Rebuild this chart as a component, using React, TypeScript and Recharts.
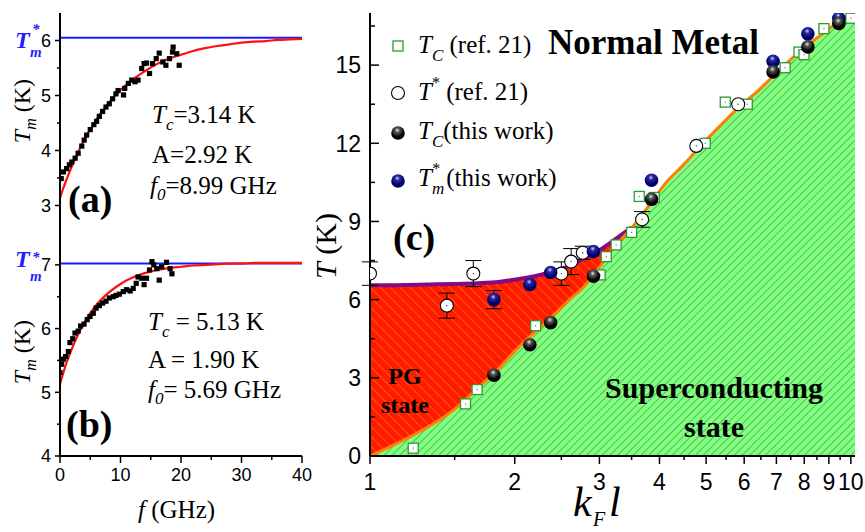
import React from "react";
import {
  ComposedChart,
  Line,
  Area,
  Scatter,
  XAxis,
  YAxis,
  ReferenceLine,
  ErrorBar,
} from "recharts";

// ---- panels (a) and (b): Tm vs frequency ----
const fA = [0.2, 0.55, 1.1, 1.55, 1.95, 2.5, 3.0, 3.6, 4.0, 4.4, 5.0, 5.6, 6.05, 6.5, 7.05, 7.6, 8.15, 8.7, 9.25, 9.6, 10.5, 10.7, 11.3, 11.85, 12.4, 12.9, 13.5, 13.9, 14.3, 14.8, 15.3, 15.9, 16.4, 17.0, 17.5, 18.1, 18.6, 18.7, 19.3, 19.7];
const tmA = [3.49, 3.61, 3.67, 3.74, 3.79, 3.86, 3.95, 4.08, 4.19, 4.28, 4.38, 4.47, 4.53, 4.62, 4.71, 4.79, 4.85, 4.94, 5.03, 5.09, 5.01, 5.13, 5.22, 5.28, 5.25, 5.28, 5.49, 5.58, 5.59, 5.4, 5.58, 5.67, 5.77, 5.61, 5.55, 5.67, 5.79, 5.88, 5.76, 5.55];

const fB = [0, 0.28, 0.55, 0.94, 1.38, 1.65, 2.1, 2.48, 3.0, 3.4, 3.97, 4.5, 4.96, 5.5, 5.95, 6.5, 7.05, 7.6, 8.15, 8.8, 9.26, 9.8, 10.46, 11.0, 11.6, 12.1, 12.6, 12.9, 13.5, 13.9, 14.3, 14.8, 15.2, 15.5, 16.0, 16.4, 16.8, 17.6, 18.2, 18.5];
const tmB = [5.31, 5.44, 5.52, 5.56, 5.64, 5.78, 5.84, 5.93, 5.96, 6.04, 6.07, 6.14, 6.19, 6.24, 6.32, 6.36, 6.4, 6.43, 6.48, 6.5, 6.52, 6.54, 6.58, 6.61, 6.59, 6.63, 6.71, 6.81, 6.79, 6.69, 6.79, 6.92, 7.05, 7.0, 6.94, 6.76, 6.97, 7.04, 6.94, 6.86];

const fitF = [0, 0.5, 1, 2, 3, 4, 6, 8, 10, 12, 14, 16, 18, 20, 22, 24, 26, 28, 30, 32, 34, 36, 38, 40];
const fitA = [3.14, 3.3, 3.45, 3.72, 3.97, 4.19, 4.56, 4.86, 5.1, 5.29, 5.44, 5.57, 5.67, 5.74, 5.81, 5.86, 5.9, 5.93, 5.96, 5.98, 5.99, 6.01, 6.02, 6.03];
const fitB = [5.13, 5.29, 5.44, 5.69, 5.91, 6.09, 6.37, 6.56, 6.7, 6.8, 6.87, 6.92, 6.95, 6.97, 6.99, 7.0, 7.01, 7.02, 7.02, 7.03, 7.03, 7.03, 7.03, 7.03];

const tmStarA = 6.05;
const tmStarB = 7.02;

const fTicks = [0, 5, 10, 15, 20, 25, 30, 35, 40];
const fMajor = [0, 10, 20, 30, 40];
const aTicks = [3, 3.5, 4, 4.5, 5, 5.5, 6];
const aMajor = [3, 4, 5, 6];
const bTicks = [4, 4.5, 5, 5.5, 6, 6.5, 7];
const bMajor = [4, 5, 6, 7];

// ---- panel (c): phase diagram ----
const tcRefK = [1.23, 1.58, 1.67, 2.21, 3.01, 3.1, 3.25, 3.5, 3.63, 3.9, 4.98, 5.48, 6.09, 7.3, 7.8, 7.99, 8.79, 10.0];
const tcRefT = [0.3, 2.0, 2.55, 5.0, 6.95, 7.65, 8.1, 8.58, 9.96, 9.92, 12.0, 13.58, 13.5, 14.9, 15.5, 15.4, 16.4, 16.8];

const tsRefK = [1.0, 1.445, 1.64, 2.5, 2.62, 2.77, 3.68, 4.77, 5.83];
const tsRefT = [7.0, 5.77, 7.0, 7.0, 7.46, 7.8, 9.08, 11.9, 13.5];
const tsRefErr = [0.45, 0.48, 0.5, 0.45, 0.5, 0.25, 0.3, null, null];

const workK = [1.81, 2.15, 2.375, 2.915, 3.85, 6.89, 8.14, 9.44];
const tcWorkT = [3.1, 4.27, 5.12, 6.9, 9.85, 14.74, 15.7, 16.6];
const tmWorkT = [6.0, 6.58, 7.04, 7.85, 10.58, 15.15, 16.2, 16.8];
const tmWorkErr = [0.35, null, null, null, null, null, null, null];

const kGrid = [1, 1.1, 1.2, 1.33, 1.5, 1.675, 1.85, 2.02, 2.2, 2.44, 2.6, 2.77, 3.0, 3.2, 3.5, 3.8, 4.13, 4.5, 4.84, 5.3, 5.86, 6.4, 7.09, 7.8, 8.87, 9.5, 10.2];
const tcLine = [0, 0.35, 0.7, 1.15, 1.8, 2.6, 3.35, 4.1, 4.75, 5.5, 6.0, 6.45, 7.25, 7.95, 8.75, 9.6, 10.5, 11.2, 11.85, 12.6, 13.4, 14.0, 14.8, 15.5, 16.3, 16.7, 17.0];
const tStarLine = [6.55, 6.55, 6.56, 6.58, 6.6, 6.63, 6.68, 6.78, 6.9, 7.12, 7.3, 7.55, 7.9, 8.25, 8.77];

const kTicks = [1, 1.5, 2, 2.5, 3, 3.5, 4, 4.5, 5, 5.5, 6, 6.5, 7, 7.5, 8, 8.5, 9, 9.5, 10];
const kMajor = [1, 2, 3, 4, 5, 6, 7, 8, 9, 10];
const tTicks = [0, 1.5, 3, 4.5, 6, 7.5, 9, 10.5, 12, 13.5, 15, 16.5];
const tMajor = [0, 3, 6, 9, 12, 15];

const SANS = "'Liberation Sans', Arial, sans-serif";
const SERIF = "'Liberation Serif', 'Times New Roman', serif";
const BLUE = "#1f1fff";

const pts = (xs: number[], ys: number[], es?: (number | null)[]) =>
  xs.map((x, i) => ({ x, y: ys[i], e: es ? es[i] : null }));

const rowsFitA = fitF.map((x, i) => ({ x, t: fitA[i] }));
const rowsFitB = fitF.map((x, i) => ({ x, t: fitB[i] }));
const rowsBound = kGrid.map((x, i) => ({
  x,
  tc: tcLine[i],
  ts: i < tStarLine.length ? tStarLine[i] : null,
}));

type Side = "left" | "right" | "top" | "bottom";
interface TickOpts {
  out: boolean;
  majors: number[];
  major: number;
  minor: number;
  label?: boolean;
  size?: number;
  gap?: number;
}

function makeTick(side: Side, o: TickOpts) {
  return (p: any) => {
    const v = p.payload.value as number;
    const isMajor = o.majors.some((m) => Math.abs(m - v) < 1e-6);
    const len = isMajor ? o.major : o.minor;
    const s = o.out ? 1 : -1;
    const { x, y } = p;
    const size = o.size ?? 18;
    const gap = o.gap ?? 8;
    let line: React.ReactNode;
    let label: React.ReactNode = null;
    const tp = { fill: "#000", stroke: "none", fontFamily: SANS, fontSize: size };
    if (side === "left") {
      line = <line x1={x} y1={y} x2={x - s * len} y2={y} />;
      if (o.label && isMajor)
        label = (
          <text {...tp} x={x - gap} y={y + size * 0.36} textAnchor="end">
            {v}
          </text>
        );
    } else if (side === "right") {
      line = <line x1={x} y1={y} x2={x + s * len} y2={y} />;
    } else if (side === "top") {
      line = <line x1={x} y1={y} x2={x} y2={y - s * len} />;
    } else {
      line = <line x1={x} y1={y} x2={x} y2={y + s * len} />;
      if (o.label && isMajor)
        label = (
          <text {...tp} x={x} y={y + gap} textAnchor="middle">
            {v}
          </text>
        );
    }
    return (
      <g stroke="#000" strokeWidth={1.5}>
        {line}
        {label}
      </g>
    );
  };
}

const axisLine = { stroke: "#000", strokeWidth: 2 };

const square = (p: any) => (
  <rect x={p.cx - 2.6} y={p.cy - 2.6} width={5.2} height={5.2} fill="#000" />
);
const greenSquare = (p: any) => (
  <g>
    <rect x={p.cx - 5} y={p.cy - 5} width={10} height={10} fill="#fff" stroke="#2f9a2f" strokeWidth={1.3} />
    <rect x={p.cx - 0.6} y={p.cy - 0.6} width={1.2} height={1.2} fill="#2f9a2f" />
  </g>
);
const openCircle = (p: any) => (
  <g>
    <circle cx={p.cx} cy={p.cy} r={6.5} fill="#fff" stroke="#000" strokeWidth={1.1} />
    <circle cx={p.cx} cy={p.cy} r={0.7} fill="#333" />
  </g>
);
const ball = (id: string) => (p: any) => (
  <circle cx={p.cx} cy={p.cy} r={6.8} fill={`url(#${id})`} />
);

function FreqPanel(props: {
  top: number;
  height: number;
  mTop: number;
  mBottom: number;
  xHeight: number;
  domain: [number, number];
  yTicks: number[];
  yMajor: number[];
  fs: number[];
  ts: number[];
  fit: { x: number; t: number }[];
  star: number;
  bottomLabels: boolean;
}) {
  return (
    <div style={{ position: "absolute", left: 0, top: props.top }}>
      <ComposedChart
        width={320}
        height={props.height}
        margin={{ top: props.mTop, right: 18, bottom: props.mBottom, left: 0 }}
      >
        <XAxis
          dataKey="x"
          type="number"
          domain={[0, 40]}
          allowDataOverflow
          ticks={fTicks}
          interval={0}
          height={props.xHeight}
          tickSize={0}
          tickMargin={0}
          axisLine={axisLine}
          tickLine={false}
          tick={
            props.bottomLabels
              ? makeTick("bottom", { out: true, majors: fMajor, major: 7, minor: 4, label: true, size: 18, gap: 25 })
              : makeTick("bottom", { out: false, majors: fMajor, major: 5, minor: 3 })
          }
        />
        <XAxis xAxisId="top" orientation="top" type="number" domain={[0, 40]} height={0} axisLine={axisLine} tick={false} tickLine={false} />
        <YAxis
          type="number"
          domain={props.domain}
          allowDataOverflow
          ticks={props.yTicks}
          interval={0}
          width={60}
          tickSize={0}
          tickMargin={0}
          axisLine={axisLine}
          tickLine={false}
          tick={makeTick("left", { out: true, majors: props.yMajor, major: 5, minor: 3, label: true, size: 18, gap: 9 })}
        />
        <YAxis
          yAxisId="right"
          orientation="right"
          type="number"
          domain={props.domain}
          allowDataOverflow
          ticks={props.yTicks}
          interval={0}
          width={0}
          tickSize={0}
          tickMargin={0}
          axisLine={axisLine}
          tickLine={false}
          tick={makeTick("right", { out: false, majors: props.yMajor, major: 5, minor: 3 })}
        />
        <ReferenceLine y={props.star} stroke="#1a1aff" strokeWidth={2} />
        <Scatter data={pts(props.fs, props.ts)} dataKey="y" shape={square} isAnimationActive={false} />
        <Line data={props.fit} dataKey="t" type="monotone" stroke="#ff1010" strokeWidth={2.2} dot={false} isAnimationActive={false} />
      </ComposedChart>
    </div>
  );
}

function PhasePanel() {
  return (
    <div style={{ position: "absolute", left: 310, top: 0 }}>
      <ComposedChart width={555} height={532} margin={{ top: 13, right: 10, bottom: 36, left: 0 }}>
        <XAxis
          dataKey="x"
          type="number"
          scale="log"
          domain={[1, 10.2]}
          allowDataOverflow
          ticks={kTicks}
          interval={0}
          height={40}
          tickSize={0}
          tickMargin={0}
          axisLine={axisLine}
          tickLine={false}
          tick={makeTick("bottom", { out: true, majors: kMajor, major: 8, minor: 4, label: true, size: 23, gap: 34 })}
        />
        <XAxis
          xAxisId="top"
          orientation="top"
          type="number"
          scale="log"
          domain={[1, 10.2]}
          allowDataOverflow
          ticks={kTicks}
          interval={0}
          height={0}
          tickSize={0}
          tickMargin={0}
          axisLine={axisLine}
          tickLine={false}
          tick={makeTick("top", { out: false, majors: kMajor, major: 8, minor: 4 })}
        />
        <YAxis
          type="number"
          domain={[0, 17]}
          allowDataOverflow
          ticks={tTicks}
          interval={0}
          width={60}
          tickSize={0}
          tickMargin={0}
          axisLine={axisLine}
          tickLine={false}
          tick={makeTick("left", { out: false, majors: tMajor, major: 9, minor: 5, label: true, size: 23, gap: 9 })}
        />
        <YAxis yAxisId="right" orientation="right" type="number" domain={[0, 17]} width={0} axisLine={axisLine} tick={false} tickLine={false} />
        <Area
          data={rowsBound}
          dataKey={(d: any) => (d.ts == null ? null : [d.tc, d.ts])}
          type="monotone"
          stroke="none"
          fill="url(#hatchRed)"
          fillOpacity={1}
          isAnimationActive={false}
        />
        <Area
          data={rowsBound}
          dataKey="tc"
          type="monotone"
          baseValue={0}
          stroke="none"
          fill="url(#hatchGreen)"
          fillOpacity={1}
          isAnimationActive={false}
        />
        <Line data={rowsBound} dataKey="ts" type="monotone" stroke="#860a86" strokeWidth={4} dot={false} isAnimationActive={false} />
        <Line data={rowsBound} dataKey="tc" type="monotone" stroke="#ff8000" strokeWidth={3} dot={false} isAnimationActive={false} />
        <Scatter data={pts(tcRefK, tcRefT)} dataKey="y" shape={greenSquare} isAnimationActive={false} />
        <Scatter data={pts(tsRefK, tsRefT, tsRefErr)} dataKey="y" shape={openCircle} isAnimationActive={false}>
          <ErrorBar dataKey="e" direction="y" width={8} stroke="#000" strokeWidth={1} />
        </Scatter>
        <Scatter data={pts(workK, tmWorkT, tmWorkErr)} dataKey="y" shape={ball("ballBlue")} isAnimationActive={false}>
          <ErrorBar dataKey="e" direction="y" width={8} stroke="#000" strokeWidth={1} />
        </Scatter>
        <Scatter data={pts(workK, tcWorkT)} dataKey="y" shape={ball("ballBlack")} isAnimationActive={false} />
      </ComposedChart>
    </div>
  );
}

function Defs() {
  return (
    <svg width={0} height={0} style={{ position: "absolute" }}>
      <defs>
        <pattern id="hatchGreen" patternUnits="userSpaceOnUse" width={5.5} height={5.5} patternTransform="rotate(45)">
          <rect width={5.5} height={5.5} fill="#80ff80" />
          <line x1={0} y1={0} x2={0} y2={5.5} stroke="#2a7a2a" strokeWidth={1} />
        </pattern>
        <pattern id="hatchRed" patternUnits="userSpaceOnUse" width={7} height={7} patternTransform="rotate(-45)">
          <rect width={7} height={7} fill="#ff1a00" />
          <line x1={0} y1={0} x2={0} y2={7} stroke="#ff9a00" strokeWidth={1} />
        </pattern>
        <radialGradient id="ballBlack" cx="0.45" cy="0.3" r="0.7">
          <stop offset="0" stopColor="#e8e8e8" />
          <stop offset="0.25" stopColor="#555" />
          <stop offset="0.7" stopColor="#000" />
        </radialGradient>
        <radialGradient id="ballBlue" cx="0.45" cy="0.3" r="0.7">
          <stop offset="0" stopColor="#d0d0ff" />
          <stop offset="0.25" stopColor="#2a2aa0" />
          <stop offset="0.7" stopColor="#00006a" />
        </radialGradient>
      </defs>
    </svg>
  );
}

function Overlay() {
  const serif = { fontFamily: SERIF, fill: "#000" };
  const it = { fontStyle: "italic" as const };
  const bold = { fontWeight: "bold" as const };
  return (
    <svg width={865} height={532} style={{ position: "absolute", left: 0, top: 0, pointerEvents: "none" }}>
      {/* panel (a) */}
      <g {...serif} fill={BLUE} {...bold} {...it}>
        <text x={15} y={48} fontSize={24}>T</text>
        <text x={30} y={57} fontSize={15}>m</text>
        <text x={32} y={34} fontSize={15}>*</text>
        <text x={15} y={267} fontSize={24}>T</text>
        <text x={30} y={281} fontSize={15}>m</text>
        <text x={32} y={262} fontSize={15}>*</text>
      </g>
      <g {...serif} fontSize={24}>
        <text transform="translate(30,111) rotate(-90)" textAnchor="middle">
          <tspan {...it}>T</tspan>
          <tspan {...it} fontSize={16} dy={6}>m</tspan>
          <tspan dy={-6}> (K)</tspan>
        </text>
        <text transform="translate(30,352) rotate(-90)" textAnchor="middle">
          <tspan {...it}>T</tspan>
          <tspan {...it} fontSize={16} dy={6}>m</tspan>
          <tspan dy={-6}> (K)</tspan>
        </text>
      </g>
      <g {...serif} fontSize={25}>
        <text x={152} y={123}>
          <tspan {...it}>T</tspan>
          <tspan {...it} fontSize={17} dy={7}>c</tspan>
          <tspan dy={-7}>=3.14 K</tspan>
        </text>
        <text x={152} y={163}>A=2.92 K</text>
        <text x={150} y={194}>
          <tspan {...it}>f</tspan>
          <tspan {...it} fontSize={17} dy={6}>0</tspan>
          <tspan dy={-6}>=8.99 GHz</tspan>
        </text>
        <text x={148} y={330}>
          <tspan {...it}>T</tspan>
          <tspan {...it} fontSize={17} dy={7}>c</tspan>
          <tspan dy={-7}> = 5.13 K</tspan>
        </text>
        <text x={148} y={368}>A = 1.90 K</text>
        <text x={148} y={398}>
          <tspan {...it}>f</tspan>
          <tspan {...it} fontSize={17} dy={6}>0</tspan>
          <tspan dy={-6}>= 5.69 GHz</tspan>
        </text>
        <text x={138} y={518}>
          <tspan {...it}>f</tspan>
          <tspan> (GHz)</tspan>
        </text>
      </g>
      <g {...serif} {...bold} fontSize={38}>
        <text x={68} y={212}>(a)</text>
        <text x={66} y={437}>(b)</text>
        <text x={393} y={250}>(c)</text>
      </g>
      {/* panel (c) */}
      <g {...serif} fontSize={30}>
        <text transform="translate(336,246) rotate(-90)" textAnchor="middle">
          <tspan {...it}>T</tspan>
          <tspan> (K)</tspan>
        </text>
      </g>
      <g {...serif} {...it}>
        <text x={573} y={516} fontSize={42}>k</text>
        <text x={593} y={526} fontSize={20}>F</text>
        <text x={609} y={516} fontSize={42}>l</text>
      </g>
      <g {...serif} {...bold}>
        <text x={548} y={54} fontSize={35}>Normal Metal</text>
        <text x={714} y={398} fontSize={30} textAnchor="middle">Superconducting</text>
        <text x={714} y={437} fontSize={30} textAnchor="middle">state</text>
        <text x={405} y={384} fontSize={24} textAnchor="middle">PG</text>
        <text x={405} y={413} fontSize={24} textAnchor="middle">state</text>
      </g>
      {/* legend */}
      <g>
        <rect x={393} y={41} width={10} height={10} fill="#fff" stroke="#2f9a2f" strokeWidth={1.3} />
        <circle cx={398} cy={93} r={6.5} fill="#fff" stroke="#000" strokeWidth={1.1} />
        <circle cx={398} cy={133} r={6.8} fill="url(#ballBlack)" />
        <circle cx={398} cy={181} r={6.8} fill="url(#ballBlue)" />
      </g>
      <g {...serif} fontSize={25}>
        <text x={418} y={53}>
          <tspan {...it}>T</tspan>
          <tspan {...it} fontSize={17} dy={8}>C</tspan>
          <tspan dy={-8}> (ref. 21)</tspan>
        </text>
        <text x={418} y={100}>
          <tspan {...it}>T</tspan>
          <tspan fontSize={16} dy={-12}>*</tspan>
          <tspan dy={12}> (ref. 21)</tspan>
        </text>
        <text x={418} y={139}>
          <tspan {...it}>T</tspan>
          <tspan {...it} fontSize={17} dy={8}>C</tspan>
          <tspan dy={-8}>(this work)</tspan>
        </text>
        <text x={418} y={186}>
          <tspan {...it}>T</tspan>
          <tspan {...it} fontSize={17} dy={8}>m</tspan>
          <tspan fontSize={16} dx={-12} dy={-20}>*</tspan>
          <tspan dy={12} dx={6}>(this work)</tspan>
        </text>
      </g>
    </svg>
  );
}

export default function App() {
  return (
    <div style={{ position: "absolute", left: 0, top: 0, width: 865, height: 532, background: "#fff", overflow: "hidden" }}>
      <Defs />
      <FreqPanel
        top={0}
        height={240}
        mTop={13}
        mBottom={7}
        xHeight={0}
        domain={[2.5, 6.5]}
        yTicks={aTicks}
        yMajor={aMajor}
        fs={fA}
        ts={tmA}
        fit={rowsFitA}
        star={tmStarA}
        bottomLabels={false}
      />
      <FreqPanel
        top={225}
        height={307}
        mTop={8}
        mBottom={36}
        xHeight={40}
        domain={[4, 7.5]}
        yTicks={bTicks}
        yMajor={bMajor}
        fs={fB}
        ts={tmB}
        fit={rowsFitB}
        star={tmStarB}
        bottomLabels={true}
      />
      <PhasePanel />
      <Overlay />
    </div>
  );
}
